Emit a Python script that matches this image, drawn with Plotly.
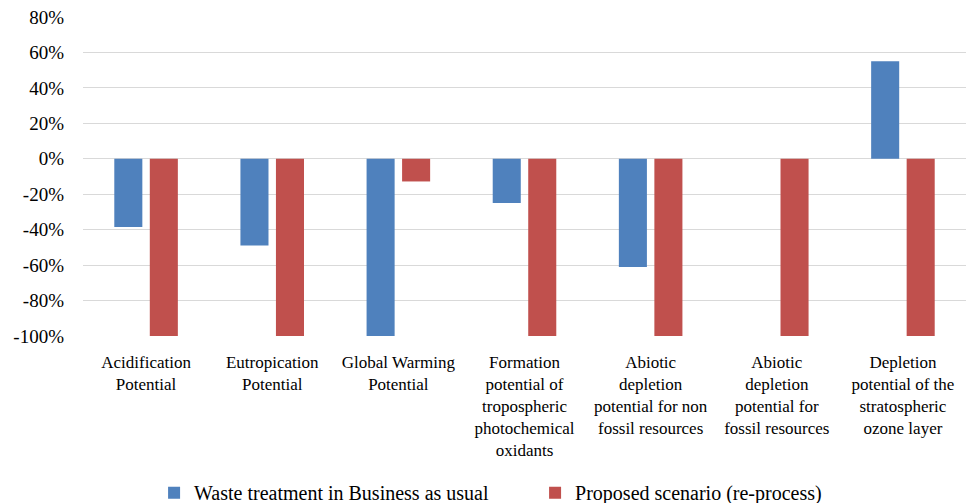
import plotly.graph_objects as go

categories = [
    "Acidification<br>Potential",
    "Eutropication<br>Potential",
    "Global Warming<br>Potential",
    "Formation<br>potential of<br>tropospheric<br>photochemical<br>oxidants",
    "Abiotic<br>depletion<br>potential for non<br>fossil resources",
    "Abiotic<br>depletion<br>potential for<br>fossil resources",
    "Depletion<br>potential of the<br>stratospheric<br>ozone layer",
]
bau_values = [-38.5, -49, -100, -25, -61, 0, 55]
proposed_values = [-100, -100, -12.8, -100, -100, -100, -100]

ytick_vals = [-100, -80, -60, -40, -20, 0, 20, 40, 60, 80]
ytick_text = ["-100%", "-80%", "-60%", "-40%", "-20%", "0%", "20%", "40%", "60%", "80%"]

FONT = "Liberation Serif"

fig = go.Figure()
fig.add_trace(go.Bar(
    x=categories, y=bau_values, name="Waste treatment in Business as usual",
    marker=dict(color="#4F81BD", line=dict(width=0)),
))
fig.add_trace(go.Bar(
    x=categories, y=proposed_values, name="Proposed scenario (re-process)",
    marker=dict(color="#C0504D", line=dict(width=0)),
))

fig.update_layout(
    width=966, height=503,
    margin=dict(l=83, r=0, t=17, b=167, autoexpand=False),
    paper_bgcolor="white", plot_bgcolor="white",
    font=dict(family=FONT, color="black", size=17),
    barmode="group", bargap=0.437, bargroupgap=0.21,
    showlegend=True,
    legend=dict(orientation="h", x=0.0805, xanchor="left", y=-0.43, yanchor="top",
                entrywidth=336, entrywidthmode="pixels",
                font=dict(size=20, family=FONT), traceorder="normal"),
)
fig.update_xaxes(showgrid=False, showline=False, ticks="", tickangle=0, automargin=False,
                 tickfont=dict(size=17, family=FONT), ticklabelstandoff=14)
fig.update_yaxes(range=[-100, 80], tickvals=ytick_vals, ticktext=ytick_text, automargin=False,
                 showgrid=True, gridcolor="#D9D9D9", gridwidth=1.3,
                 zeroline=True, zerolinecolor="#D9D9D9", zerolinewidth=1.3,
                 showline=False, ticks="", tickfont=dict(size=19, family=FONT),
                 ticklabelstandoff=18)

fig.write_html("out.html", config={"displayModeBar": False},
               post_script="document.body.style.margin='0';document.body.style.overflow='hidden';")
